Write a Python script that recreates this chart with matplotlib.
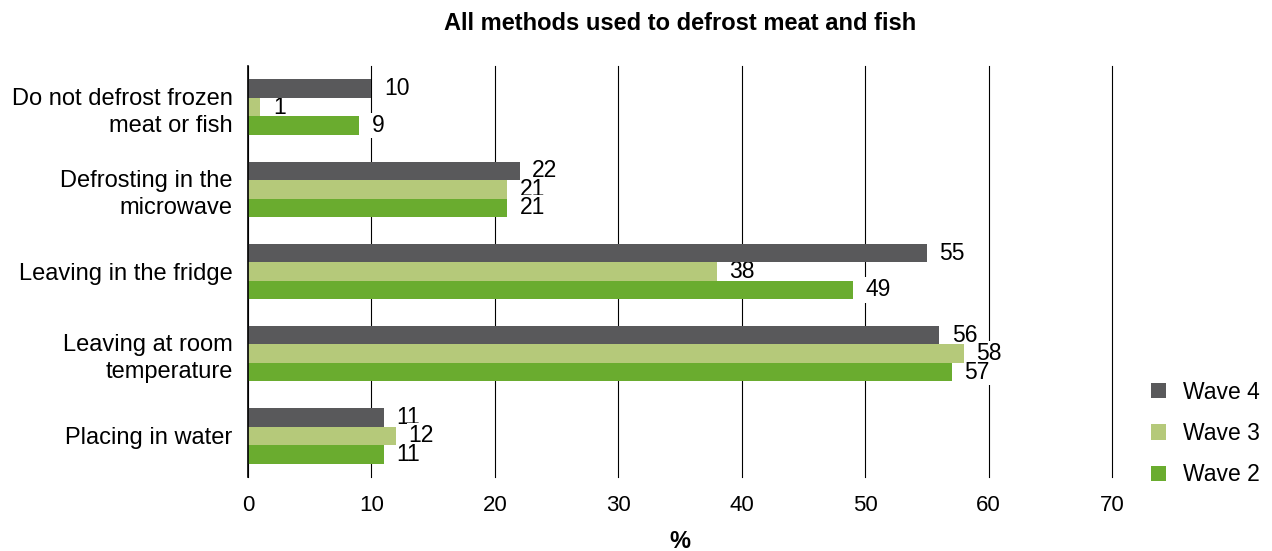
import matplotlib.pyplot as plt
import numpy as np

plt.rcParams['font.family'] = ['Liberation Sans', 'DejaVu Sans']

categories = ["Do not defrost frozen\nmeat or fish", "Defrosting in the\nmicrowave",
              "Leaving in the fridge", "Leaving at room\ntemperature", "Placing in water"]
wave4 = [10, 22, 55, 56, 11]
wave3 = [1, 21, 38, 58, 12]
wave2 = [9, 21, 49, 57, 11]
series = ["Wave 4", "Wave 3", "Wave 2"]
colors = ["#59595b", "#b5c97a", "#6aac2f"]

fig = plt.figure(figsize=(12.72, 5.51), dpi=100)
ax = fig.add_axes([248 / 1272, 1 - 477 / 551, (1112 - 248) / 1272, (477 - 66) / 551])

y = np.arange(len(categories))
h = 0.225
handles = []
for i, (vals, name, col) in enumerate(zip([wave4, wave3, wave2], series, colors)):
    pos = y + (i - 1) * h
    b = ax.barh(pos, vals, height=h, color=col, label=name, zorder=3)
    handles.append(b)
    for p, v in zip(pos, vals):
        ax.annotate(str(v), (v, p), xytext=(9, 0), textcoords="offset points",
                    va="center", ha="left", fontsize=16.5, zorder=2.5,
                    bbox=dict(boxstyle="square,pad=0.05", fc="white", ec="none"))

ax.set_xlim(0, 70)
ax.set_ylim(len(categories) - 0.5, -0.5)
ax.set_yticks(y)
ax.set_yticklabels(categories, fontsize=17, ha="right", linespacing=1.3)
ax.set_xticks(range(0, 71, 10))
ax.tick_params(axis="x", labelsize=16, length=0, pad=13)
ax.tick_params(axis="y", length=0, pad=11)
ax.xaxis.grid(True, color="black", linewidth=0.8, zorder=0)
for line in ax.get_xgridlines():
    line.set_clip_on(False)
for s in ["top", "right", "bottom"]:
    ax.spines[s].set_visible(False)
ax.spines["left"].set_linewidth(1.2)
ax.spines["left"].set_zorder(5)

ax.set_xlabel("%", fontsize=17, fontweight="bold", labelpad=10)
ax.set_title("All methods used to defrost meat and fish", fontsize=17, fontweight="bold", pad=26)

fig.legend(handles=handles, loc="upper left", bbox_to_anchor=(1130 / 1272, 1 - 360 / 551),
           frameon=False, fontsize=16.5, handlelength=0.65, handleheight=0.65,
           labelspacing=0.8, handletextpad=0.75)

fig.savefig("out.png", dpi=100)
